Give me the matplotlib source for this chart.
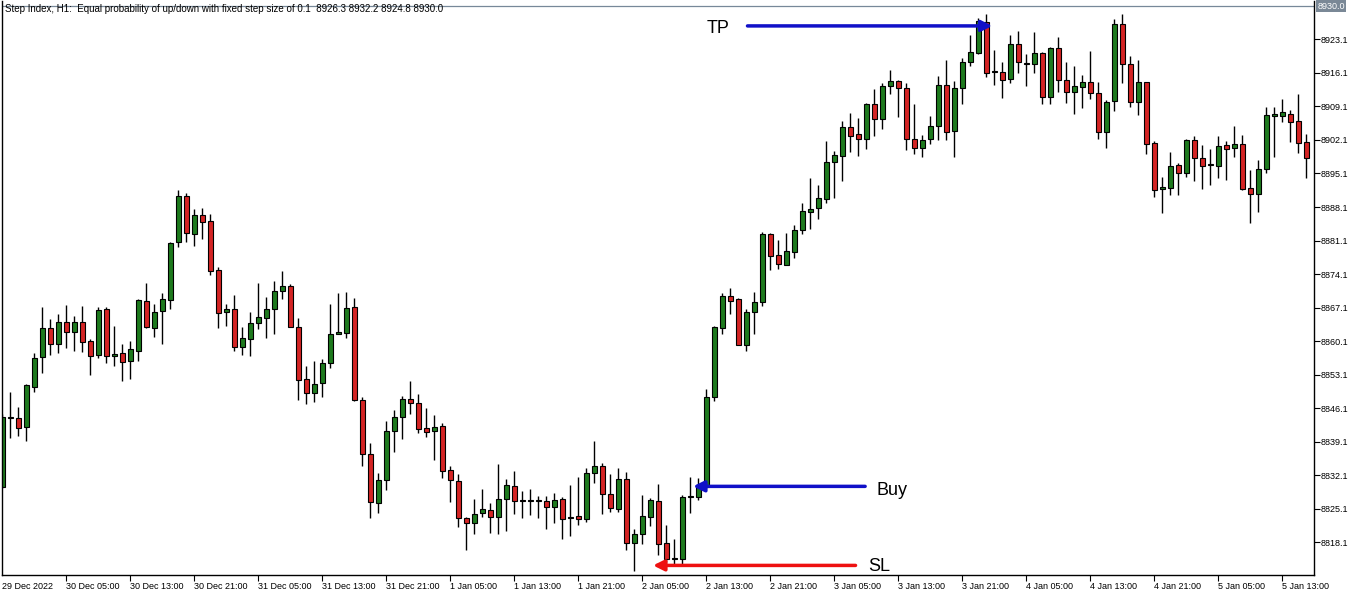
import numpy as np
import pandas as pd
import matplotlib
matplotlib.use("Agg")
import matplotlib.pyplot as plt

# H1 candles, 29 Dec 2022 21:00 onwards
opens = [8829.7, 8844.0, 8844.0, 8842.1, 8850.6, 8856.7, 8862.8, 8859.6, 8864.0, 8862.1,
         8864.2, 8860.1, 8857.3, 8866.8, 8857.0, 8857.7, 8856.0, 8858.1, 8868.5, 8862.9,
         8866.3, 8868.6, 8880.7, 8890.5, 8882.5, 8886.4, 8885.1, 8874.9, 8866.1, 8866.8,
         8858.8, 8860.5, 8863.8, 8864.9, 8866.8, 8870.6, 8871.6, 8863.0, 8852.3, 8849.2,
         8851.3, 8855.5, 8861.7, 8861.9, 8867.2, 8847.9, 8836.5, 8826.3, 8831.1, 8841.4,
         8844.2, 8848.0, 8847.1, 8841.9, 8841.4, 8842.4, 8833.2, 8830.9, 8823.1, 8822.2,
         8824.3, 8824.8, 8823.4, 8827.1, 8829.8, 8826.9, 8826.8, 8826.7, 8826.7, 8825.5,
         8827.1, 8823.2, 8823.6, 8822.9, 8832.6, 8834.0, 8828.3, 8825.0, 8831.4, 8818.0,
         8819.8, 8823.4, 8826.7, 8817.9, 8814.7, 8814.7, 8827.5, 8827.5, 8829.7, 8848.5,
         8862.9, 8869.5, 8868.9, 8859.4, 8866.1, 8868.3, 8882.4, 8878.1, 8876.1, 8878.7,
         8883.4, 8887.1, 8887.8, 8889.7, 8897.5, 8898.8, 8904.7, 8903.3, 8902.2, 8909.5,
         8906.4, 8913.3, 8914.4, 8912.9, 8902.2, 8900.5, 8902.2, 8905.0, 8913.5, 8904.0,
         8912.9, 8918.3, 8920.3, 8926.8, 8916.3, 8916.2, 8914.9, 8922.1, 8917.9, 8917.9,
         8920.2, 8911.0, 8921.2, 8914.7, 8912.2, 8913.2, 8914.1, 8911.8, 8903.7, 8910.3,
         8926.2, 8917.9, 8910.1, 8914.1, 8901.5, 8891.8, 8892.0, 8896.9, 8895.3, 8902.1,
         8898.3, 8896.9, 8896.7, 8901.0, 8900.5, 8901.2, 8892.0, 8890.9, 8896.0, 8907.1,
         8907.1, 8907.6, 8906.0, 8901.6]
highs = [8844.9, 8849.5, 8846.4, 8851.1, 8857.7, 8867.3, 8864.7, 8865.8, 8867.7, 8865.3,
         8867.4, 8860.5, 8867.2, 8867.3, 8863.3, 8859.6, 8860.1, 8868.9, 8872.3, 8867.9,
         8870.1, 8880.7, 8891.6, 8891.1, 8887.6, 8888.0, 8886.6, 8875.5, 8867.9, 8869.7,
         8863.0, 8866.2, 8872.3, 8869.4, 8872.6, 8874.7, 8872.0, 8864.9, 8854.9, 8855.9,
         8856.3, 8867.9, 8870.2, 8870.4, 8869.2, 8848.5, 8838.9, 8832.6, 8843.4, 8845.7,
         8848.6, 8851.8, 8849.0, 8846.2, 8844.7, 8843.1, 8834.0, 8832.3, 8823.4, 8827.1,
         8829.2, 8826.4, 8834.4, 8831.3, 8833.0, 8828.8, 8829.2, 8827.8, 8827.7, 8828.5,
         8827.6, 8830.0, 8831.8, 8833.7, 8839.2, 8834.7, 8832.3, 8833.7, 8832.7, 8820.8,
         8828.1, 8827.4, 8830.3, 8821.7, 8818.9, 8828.1, 8831.8, 8831.5, 8850.2, 8863.3,
         8870.2, 8871.3, 8869.1, 8866.9, 8870.4, 8882.8, 8882.6, 8881.2, 8882.7, 8884.3,
         8888.9, 8894.1, 8892.7, 8901.9, 8899.8, 8906.0, 8907.8, 8906.6, 8909.9, 8912.7,
         8914.0, 8916.7, 8914.6, 8913.9, 8909.7, 8903.1, 8907.1, 8915.4, 8918.8, 8914.4,
         8919.1, 8924.1, 8927.5, 8928.3, 8920.9, 8918.3, 8924.1, 8924.8, 8920.0, 8924.6,
         8920.5, 8921.6, 8923.5, 8918.3, 8917.5, 8915.6, 8920.7, 8914.1, 8910.4, 8927.3,
         8928.4, 8919.6, 8918.8, 8914.2, 8901.9, 8894.3, 8899.6, 8897.3, 8902.2, 8902.9,
         8901.0, 8900.3, 8902.9, 8901.9, 8905.0, 8903.1, 8895.8, 8897.9, 8909.0, 8909.0,
         8910.6, 8908.3, 8911.7, 8903.3]
lows = [8829.4, 8839.9, 8840.4, 8839.3, 8849.5, 8853.5, 8857.3, 8857.7, 8858.7, 8858.1,
        8857.9, 8853.1, 8856.5, 8855.6, 8854.9, 8851.8, 8852.2, 8856.0, 8862.8, 8861.0,
        8859.5, 8866.8, 8879.7, 8880.7, 8880.0, 8881.4, 8873.9, 8862.9, 8863.3, 8858.1,
        8857.2, 8857.0, 8862.6, 8860.7, 8861.5, 8869.0, 8863.0, 8847.9, 8846.9, 8847.4,
        8848.5, 8854.6, 8861.5, 8860.8, 8847.6, 8834.1, 8823.2, 8824.3, 8829.1, 8837.0,
        8839.6, 8845.0, 8841.0, 8840.1, 8835.4, 8831.6, 8826.5, 8821.3, 8816.6, 8819.8,
        8823.4, 8820.1, 8819.8, 8820.5, 8824.1, 8823.2, 8823.8, 8823.2, 8820.9, 8822.2,
        8818.9, 8819.4, 8821.8, 8822.4, 8830.5, 8824.0, 8824.5, 8824.5, 8816.6, 8812.1,
        8817.7, 8821.6, 8815.4, 8814.0, 8813.7, 8813.7, 8824.3, 8826.9, 8829.4, 8847.6,
        8861.6, 8865.7, 8859.3, 8858.1, 8861.6, 8867.4, 8874.9, 8875.1, 8876.1, 8877.5,
        8882.4, 8883.6, 8885.7, 8889.0, 8889.9, 8893.6, 8899.6, 8898.8, 8900.2, 8903.0,
        8904.4, 8911.6, 8906.9, 8900.1, 8899.1, 8898.5, 8901.2, 8902.0, 8902.1, 8898.6,
        8909.7, 8917.6, 8920.0, 8915.3, 8913.5, 8910.9, 8914.0, 8916.1, 8913.4, 8916.1,
        8909.7, 8909.5, 8912.2, 8909.9, 8907.5, 8908.8, 8910.6, 8902.4, 8900.5, 8908.1,
        8914.0, 8909.0, 8907.4, 8899.1, 8890.2, 8886.8, 8890.7, 8890.7, 8894.4, 8893.6,
        8891.8, 8892.8, 8894.2, 8893.7, 8898.6, 8891.7, 8884.8, 8887.1, 8895.3, 8898.6,
        8905.8, 8901.7, 8899.3, 8894.1]
closes = [8844.3, 8844.1, 8841.9, 8850.9, 8856.5, 8862.8, 8859.6, 8864.2, 8862.1, 8864.2,
          8860.0, 8857.0, 8866.6, 8857.0, 8857.5, 8855.8, 8858.4, 8868.7, 8863.1, 8866.1,
          8868.9, 8880.5, 8890.5, 8882.7, 8886.4, 8885.0, 8874.8, 8865.9, 8866.8, 8858.9,
          8860.7, 8863.8, 8865.1, 8866.8, 8870.6, 8871.6, 8863.1, 8852.1, 8849.3, 8851.1,
          8855.5, 8861.7, 8861.9, 8867.0, 8847.8, 8836.5, 8826.5, 8831.1, 8841.3, 8844.2,
          8848.0, 8847.1, 8841.7, 8841.2, 8842.1, 8833.0, 8831.1, 8823.1, 8822.2, 8824.1,
          8825.0, 8823.4, 8827.1, 8830.0, 8826.8, 8826.8, 8826.8, 8826.7, 8825.5, 8826.9,
          8822.9, 8823.2, 8822.9, 8832.5, 8834.0, 8828.3, 8825.2, 8831.4, 8818.0, 8819.8,
          8823.6, 8826.9, 8817.7, 8814.7, 8814.7, 8827.5, 8827.5, 8829.7, 8848.4, 8863.1,
          8869.5, 8868.5, 8859.4, 8866.1, 8868.2, 8882.4, 8877.9, 8876.3, 8878.9, 8883.4,
          8887.2, 8887.6, 8889.9, 8897.4, 8898.9, 8904.7, 8903.0, 8902.2, 8909.7, 8906.4,
          8913.3, 8914.4, 8912.9, 8902.2, 8900.5, 8902.1, 8905.1, 8913.5, 8903.8, 8912.9,
          8918.3, 8920.4, 8926.9, 8916.1, 8916.3, 8914.7, 8922.1, 8918.3, 8917.9, 8920.2,
          8911.0, 8921.2, 8914.7, 8912.2, 8913.3, 8914.1, 8911.8, 8903.8, 8910.1, 8926.4,
          8917.9, 8910.1, 8914.1, 8901.2, 8891.6, 8892.2, 8896.6, 8895.1, 8902.1, 8898.3,
          8896.7, 8896.9, 8900.8, 8900.3, 8901.2, 8891.8, 8890.9, 8896.0, 8907.3, 8907.5,
          8907.9, 8905.9, 8901.4, 8898.3]

start_time = "2022-12-29 21:00"
yticks = [8818.1 + 7.0 * k for k in range(16)]
bid_price = 8930.0
title = "Step Index, H1:  Equal probability of up/down with fixed step size of 0.1  8926.3 8932.2 8924.8 8930.0"

# trade levels drawn by hand on the chart
tp_price = 8925.9
buy_price = 8829.8
sl_price = 8813.3

o = np.array(opens)
h = np.array(highs)
l = np.array(lows)
c = np.array(closes)
n = len(o)
x = np.arange(n)
times = pd.date_range(start_time, periods=n, freq="h")

green = "#1e7a1e"
red = "#d42424"
ymin, ymax = 8811.3, 8931.1

fig = plt.figure(figsize=(13.62, 5.97), dpi=100)
ax = fig.add_axes([2 / 1362, 22 / 597, 1312 / 1362, 574 / 597])

ax.vlines(x, l, h, color="black", lw=1.0, zorder=1)
up = c >= o
bottom = np.minimum(o, c)
height = np.maximum(np.abs(c - o), 0.25)
ax.bar(x, height, 0.6, bottom=bottom, color=np.where(up, green, red),
       edgecolor="black", linewidth=0.8, zorder=2)

ax.axhline(bid_price, color="#778899", lw=0.9, zorder=0)

ax.set_xlim(-0.04, n - 0.04)
ax.set_ylim(ymin, ymax)

# x labels every 8 bars, first one shows the date
xt = list(range(0, n, 8))
xl = []
for i in xt:
    t = times[i]
    if i == 0:
        xl.append(f"{t.day} {t:%b %Y}")
    else:
        xl.append(f"{t.day} {t:%b %H:%M}")
ax.set_xticks(xt)
ax.set_xticklabels(xl, fontsize=6.5, family="Liberation Sans", ha="left")
ax.tick_params(axis="x", length=4, width=0.8, pad=1)
ax.xaxis.get_major_ticks()[0].tick1line.set_visible(False)

ax.yaxis.tick_right()
ax.set_yticks(yticks)
ax.set_yticklabels([f"{v:.1f}" for v in yticks], fontsize=6.5, family="Liberation Sans")
ax.tick_params(axis="y", length=4, width=0.8, pad=1)

for s in ax.spines.values():
    s.set_linewidth(1.0)
ax.spines["top"].set_visible(False)

ax.text(0.002, 0.994, title, transform=ax.transAxes, fontsize=7,
        family="Liberation Sans", va="top", ha="left")

ax.text(1.0025, (bid_price - ymin) / (ymax - ymin), f"{bid_price:.1f}",
        transform=ax.transAxes, fontsize=6.5, family="Liberation Sans", color="white",
        va="center", ha="left",
        bbox=dict(boxstyle="square,pad=0.15", fc="#7a8896", ec="none"))

# annotations
blue = "#1010c8"
ax.annotate("", xy=(124.1, tp_price), xytext=(92.8, tp_price),
            arrowprops=dict(arrowstyle="-|>", color=blue, lw=2.5, mutation_scale=16))
ax.text(89.5, tp_price - 0.5, "TP", fontsize=13, family="Liberation Sans",
        ha="center", va="center")

ax.annotate("", xy=(86.0, buy_price), xytext=(108.2, buy_price),
            arrowprops=dict(arrowstyle="-|>", color=blue, lw=2.5, mutation_scale=16))
ax.text(109.3, buy_price - 0.8, "Buy", fontsize=13, family="Liberation Sans",
        ha="left", va="center")

ax.annotate("", xy=(81.0, sl_price), xytext=(107.0, sl_price),
            arrowprops=dict(arrowstyle="-|>", color="#ee1111", lw=2.5, mutation_scale=16))
ax.text(108.2, sl_price - 0.2, "SL", fontsize=13, family="Liberation Sans",
        ha="left", va="center")

fig.savefig("out.png", dpi=100, facecolor="white")
